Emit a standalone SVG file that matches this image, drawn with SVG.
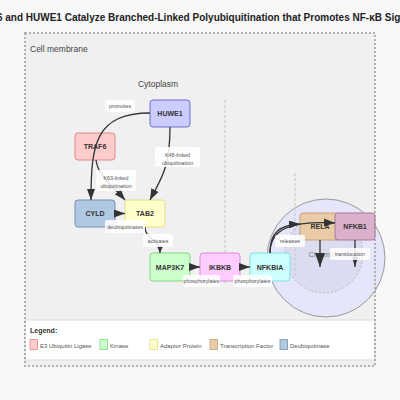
<svg xmlns="http://www.w3.org/2000/svg" width="400" height="400" viewBox="0 0 400 400">
<defs>
<style>
text{font-family:"Liberation Sans",Arial,sans-serif}
.title{font-size:10px;font-weight:bold;fill:#222}
.area{font-size:8.5px;fill:#444}
.node text{font-size:7px;font-weight:bold;fill:#333;text-anchor:middle}
.node rect{stroke-width:1}
.edge{fill:none;stroke:#333;stroke-width:1.3}
.lbl rect{fill:#fff;fill-opacity:0.85}
.lbl text{font-size:5.3px;fill:#555;text-anchor:middle}
.sep{stroke:#ccc;stroke-width:1.2;stroke-dasharray:3,2;fill:none}
.leg text{font-size:6px;fill:#555}
</style>
<marker id="ah" markerUnits="userSpaceOnUse" markerWidth="12" markerHeight="8" refX="11" refY="4" orient="auto"><path d="M0,0 L11,4 L0,8 z" fill="#333"/></marker>
<marker id="ahs" markerUnits="userSpaceOnUse" markerWidth="8" markerHeight="6" refX="7" refY="3" orient="auto"><path d="M0,0 L7,3 L0,6 z" fill="#333"/></marker>
<marker id="ahb" markerUnits="userSpaceOnUse" markerWidth="14" markerHeight="10" refX="14" refY="5" orient="auto"><path d="M0,0 L14,5 L0,10 z" fill="#333"/></marker>
<marker id="ahn" markerUnits="userSpaceOnUse" markerWidth="11" markerHeight="6" refX="10" refY="3" orient="auto"><path d="M0,0 L10,3 L0,6 z" fill="#333"/></marker>
</defs>
<rect x="0" y="0" width="400" height="400" fill="#f8f8f8"/>
<text class="title" x="200" y="21" text-anchor="middle">TRAF6 and HUWE1 Catalyze Branched-Linked Polyubiquitination that Promotes NF-κB Signaling</text>
<rect x="25" y="33" width="350" height="333" fill="#f0f0f0"/>
<text class="area" x="30" y="52">Cell membrane</text>
<text class="area" x="158" y="87" text-anchor="middle">Cytoplasm</text>
<g id="nucleus">
<circle cx="326" cy="258" r="59" fill="#e6e6fa" stroke="#999" stroke-width="1"/>
<circle cx="324" cy="254" r="39" fill="#dcdcf0" stroke="#aaa" stroke-width="0.8" stroke-dasharray="2,2"/>
<text x="325" y="257" text-anchor="middle" style="font-size:7px;fill:#777">Chromatin</text>
</g>
<path class="sep" d="M225,100 L225,285"/>
<path class="sep" d="M295,173 L295,278"/>
<g id="n-huwe1" class="node"><rect x="150" y="100" width="40" height="27" rx="3" fill="#ccccff" stroke="#7070d0"/><text x="170" y="116">HUWE1</text></g>
<g id="n-traf6" class="node"><rect x="75" y="133" width="40" height="27" rx="3" fill="#ffcccc" stroke="#e08888"/><text x="95" y="149">TRAF6</text></g>
<g id="n-cyld" class="node"><rect x="75" y="200" width="40" height="27" rx="3" fill="#b0c8e2" stroke="#7890b4"/><text x="95" y="216">CYLD</text></g>
<g id="n-tab2" class="node"><rect x="125" y="200" width="40" height="27" rx="3" fill="#ffffcc" stroke="#e0e088"/><text x="145" y="216">TAB2</text></g>
<g id="n-map3k7" class="node"><rect x="150" y="253" width="40" height="28" rx="3" fill="#ccffcc" stroke="#80d880"/><text x="170" y="269.5">MAP3K7</text></g>
<g id="n-ikbkb" class="node"><rect x="200" y="253" width="40" height="28" rx="3" fill="#ffccff" stroke="#e088e0"/><text x="220" y="269.5">IKBKB</text></g>
<g id="n-nfkbia" class="node"><rect x="250" y="253" width="40" height="28" rx="3" fill="#ccffff" stroke="#80e0e0"/><text x="270" y="269.5">NFKBIA</text></g>
<g id="n-rela" class="node"><rect x="300" y="213" width="40" height="27" rx="3" fill="#e9cba8" stroke="#c8a078"/><text x="320" y="229">RELA</text></g>
<g id="n-nfkb1" class="node"><rect x="335" y="213" width="40" height="27" rx="3" fill="#dab0cc" stroke="#a87898"/><text x="355" y="229">NFKB1</text></g>
<g id="connectors">
<path class="edge" d="M150,113 C95,113 91,145 91,200" marker-end="url(#ah)"/>
<path class="edge" d="M170,127 C170,170 160,180 150,200" marker-end="url(#ah)"/>
<path class="edge" d="M96,160 C98,176 112,185 125,200" marker-end="url(#ah)"/>
<path class="edge" d="M115,213.5 L125,213.5" marker-end="url(#ah)"/>
<path class="edge" d="M145,227 C145,240 160,238 160,253" marker-end="url(#ahs)"/>
<path class="edge" d="M190,267 L200,267" marker-end="url(#ah)"/>
<path class="edge" d="M240,267 L250,267" marker-end="url(#ah)"/>
<path class="edge" d="M270,253 C270,232 280,225 300,224" marker-end="url(#ah)"/>
<path class="edge" d="M270,253 C270,228 292,221 335,223" marker-end="url(#ah)"/>
<path class="edge" d="M320,240 L320,267" stroke-width="1.8" marker-end="url(#ahb)"/>
<path class="edge" d="M355,240 L355,267" marker-end="url(#ahn)"/>
</g>
<g id="labels" class="lbl">
<rect x="105" y="100" width="30" height="12" rx="2"/><text x="120" y="108">promotes</text>
<rect x="155" y="147" width="45" height="20" rx="2"/><text x="177.5" y="157">K48-linked</text><text x="177.5" y="164.5">ubiquitination</text>
<rect x="96" y="170" width="40" height="21" rx="2"/><text x="116" y="180">K63-linked</text><text x="116" y="187.5">ubiquitination</text>
<rect x="105" y="220" width="40" height="13" rx="2"/><text x="125" y="228.5">deubiquitinates</text>
<rect x="143" y="234" width="30" height="13" rx="2"/><text x="158" y="242.5">activates</text>
<rect x="183" y="275" width="37" height="12" rx="2"/><text x="201.5" y="283">phosphorylates</text>
<rect x="233" y="275" width="39" height="12" rx="2"/><text x="252.5" y="283">phosphorylates</text>
<rect x="275" y="235" width="30" height="12" rx="2"/><text x="290" y="243">releases</text>
<rect x="330" y="248" width="40" height="12" rx="2"/><text x="350" y="256">translocation</text>
</g>
<g id="legend" class="leg">
<rect x="25" y="320" width="350" height="40" fill="#fff" stroke="#ddd" stroke-width="1"/>
<text x="30" y="333" style="font-size:7px;font-weight:bold;fill:#333">Legend:</text>
<rect x="30" y="339.5" width="7.5" height="10" fill="#ffcccc" stroke="#e08888" stroke-width="0.8"/><text x="40" y="347.5">E3 Ubiquitin Ligase</text>
<rect x="100" y="339.5" width="7.5" height="10" fill="#ccffcc" stroke="#80d880" stroke-width="0.8"/><text x="110" y="347.5">Kinase</text>
<rect x="150" y="339.5" width="7.5" height="10" fill="#ffffcc" stroke="#e0e088" stroke-width="0.8"/><text x="160" y="347.5">Adaptor Protein</text>
<rect x="210" y="339.5" width="7.5" height="10" fill="#e9cba8" stroke="#c8a078" stroke-width="0.8"/><text x="220" y="347.5">Transcription Factor</text>
<rect x="280" y="339.5" width="7.5" height="10" fill="#b0c8e2" stroke="#7890b4" stroke-width="0.8"/><text x="290" y="347.5">Deubiquitinase</text>
</g>
<rect x="25" y="33" width="350" height="333" fill="none" stroke="#999" stroke-width="1.5" stroke-dasharray="2,2"/>
</svg>
